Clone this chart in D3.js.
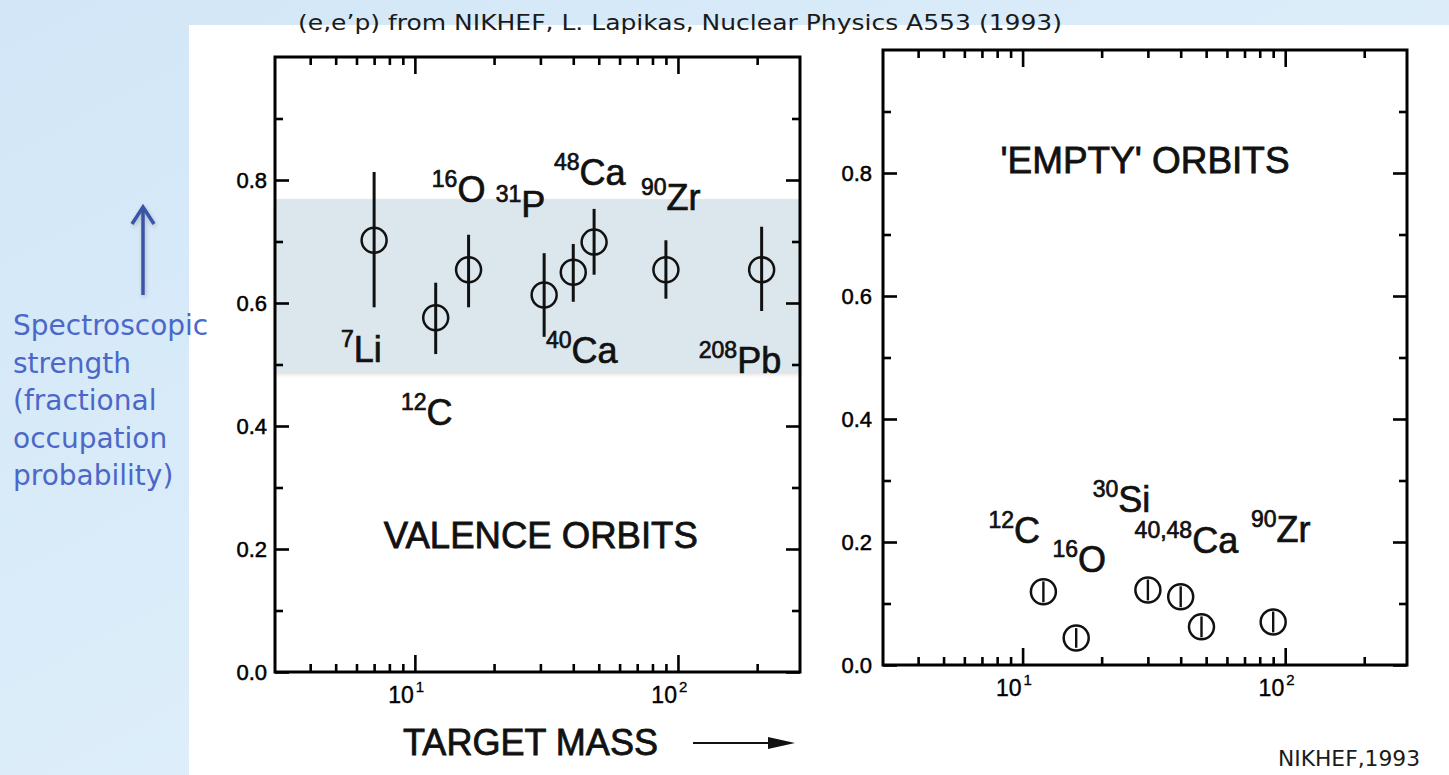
<!DOCTYPE html>
<html>
<head>
<meta charset="utf-8">
<script src="https://cdn.jsdelivr.net/npm/d3@7"></script>
<style>
  html, body { margin: 0; padding: 0; overflow: hidden; background: #fff; }
  svg { display: block; }
</style>
</head>
<body>
<svg id="chart" width="1449" height="775"></svg>
<script>
// ---- Valence orbits: (e,e'p) spectroscopic strength vs target mass ----
const valenceNuclei   = ["7Li", "12C", "16O", "31P", "40Ca", "48Ca", "90Zr", "208Pb"];
const valenceMass     = [7, 12, 16, 31, 40, 48, 90, 208];
const valenceStrength = [0.702, 0.576, 0.654, 0.613, 0.650, 0.699, 0.654, 0.654];
const valenceLow      = [0.593, 0.517, 0.593, 0.545, 0.602, 0.646, 0.607, 0.587];
const valenceHigh     = [0.813, 0.633, 0.711, 0.681, 0.696, 0.753, 0.702, 0.724];

// ---- 'Empty' orbits ----
const emptyNuclei   = ["12C", "16O", "30Si", "40Ca", "48Ca", "90Zr"];
const emptyMass     = [12, 16, 30, 40, 48, 90];
const emptyStrength = [0.119, 0.044, 0.122, 0.111, 0.062, 0.070];
const emptyLow      = [0.102, 0.028, 0.105, 0.094, 0.045, 0.053];
const emptyHigh     = [0.136, 0.060, 0.139, 0.128, 0.079, 0.087];

// shaded range of typical valence strength
const bandRange = [0.488, 0.769];

// nucleus labels (mass-number superscript + symbol), anchored in data units
const valenceLabelSup   = ["7", "12", "16", "31", "48", "90", "40", "208"];
const valenceLabelSym   = ["Li", "C", "O", "P", "Ca", "Zr", "Ca", "Pb"];
const valenceLabelMass  = [5.24, 8.85, 11.6, 20.3, 33.8, 72.3, 31.5, 120];
const valenceLabelLevel = [0.504, 0.402, 0.764, 0.740, 0.792, 0.751, 0.502, 0.486];

const emptyLabelSup   = ["12", "16", "30", "40,48", "90"];
const emptyLabelSym   = ["C", "O", "Si", "Ca", "Zr"];
const emptyLabelMass  = [7.41, 13.0, 18.5, 26.7, 74.1];
const emptyLabelLevel = [0.198, 0.151, 0.249, 0.182, 0.200];

// axes
const massDomain     = [2.94, 291];
const strengthDomain = [0, 1.0];
const xMajorTicks    = [10, 100];
const xMajorLabels   = ["1", "2"];
const xMinorTicks    = [4, 5, 6, 7, 8, 9, 20, 30, 40, 50, 60, 70, 80, 90, 200];
const yMajorTicks    = [0, 0.2, 0.4, 0.6, 0.8];
const yMinorTicks    = [0.1, 0.3, 0.5, 0.7, 0.9];

// text
const titleText  = "(e,e\u2019p) from NIKHEF,  L. Lapikas, Nuclear Physics A553 (1993)";
const sideText   = ["Spectroscopic", "strength", "(fractional", "occupation", "probability)"];
const creditText = "NIKHEF,1993";
const xAxisTitle = "TARGET MASS";

const svg = d3.select("#chart");
const W = 1449, H = 775;
const FIG_FONT = "'Liberation Sans', Arial, Helvetica, sans-serif";
const SLIDE_FONT = "'DejaVu Sans', Verdana, sans-serif";
const INK = "#111";

// ---- slide background ----
const defs = svg.append("defs");
const bg = defs.append("linearGradient").attr("id", "slideBg")
  .attr("x1", "0").attr("y1", "0").attr("x2", "1").attr("y2", "1");
bg.append("stop").attr("offset", "0%").attr("stop-color", "#d2e6f7");
bg.append("stop").attr("offset", "55%").attr("stop-color", "#ddeefa");
bg.append("stop").attr("offset", "100%").attr("stop-color", "#ebf6fd");

const shadow = defs.append("filter").attr("id", "bandShadow")
  .attr("x", "-5%").attr("y", "-20%").attr("width", "110%").attr("height", "150%");
shadow.append("feDropShadow").attr("dx", 0).attr("dy", 2.5)
  .attr("stdDeviation", 2).attr("flood-color", "#000").attr("flood-opacity", 0.14);

const arrowShadow = defs.append("filter").attr("id", "arrowShadow")
  .attr("x", "-100%").attr("y", "-20%").attr("width", "300%").attr("height", "140%");
arrowShadow.append("feDropShadow").attr("dx", 1).attr("dy", 2)
  .attr("stdDeviation", 2).attr("flood-color", "#000").attr("flood-opacity", 0.2);

svg.append("rect").attr("width", W).attr("height", H).attr("fill", "url(#slideBg)");
// white figure area
svg.append("rect").attr("x", 189).attr("y", 25).attr("width", W - 189).attr("height", H - 25)
  .attr("fill", "#ffffff");

// ---- title ----
svg.append("text").attr("x", 298).attr("y", 30)
  .attr("font-family", SLIDE_FONT).attr("font-size", 20.5).attr("fill", "#1b1b1b")
  .attr("textLength", 764).attr("lengthAdjust", "spacingAndGlyphs")
  .text(titleText);

// ---- panels ----
function drawPanel(p) {
  const g = svg.append("g");
  const x = d3.scaleLog().domain(massDomain).range([p.left, p.right]);
  const y = d3.scaleLinear().domain(strengthDomain).range([p.bottom, p.top]);

  // shaded band (drawn underneath the data)
  if (p.band) {
    g.append("rect")
      .attr("x", p.left).attr("width", p.right - p.left)
      .attr("y", y(p.band[1])).attr("height", y(p.band[0]) - y(p.band[1]))
      .attr("fill", "#dce7ed").attr("filter", "url(#bandShadow)");
  }

  const tickStyle = sel => {
    sel.select(".domain").remove();
    sel.selectAll(".tick line").attr("stroke", "#000").attr("stroke-width", 2.6);
  };
  // inward-pointing ticks on all four sides
  const addX = (ticks, len) => {
    g.append("g").attr("transform", `translate(0,${p.bottom})`)
      .call(d3.axisTop(x).tickValues(ticks).tickSize(len).tickFormat("")).call(tickStyle);
    g.append("g").attr("transform", `translate(0,${p.top})`)
      .call(d3.axisBottom(x).tickValues(ticks).tickSize(len).tickFormat("")).call(tickStyle);
  };
  const addY = (ticks, len) => {
    g.append("g").attr("transform", `translate(${p.left},0)`)
      .call(d3.axisRight(y).tickValues(ticks).tickSize(len).tickFormat("")).call(tickStyle);
    g.append("g").attr("transform", `translate(${p.right},0)`)
      .call(d3.axisLeft(y).tickValues(ticks).tickSize(len).tickFormat("")).call(tickStyle);
  };
  addX(xMinorTicks, 8);
  addX(xMajorTicks, 17);
  addY(yMinorTicks, 8);
  addY(yMajorTicks, 14);

  // frame
  g.append("rect")
    .attr("x", p.left).attr("y", p.top)
    .attr("width", p.right - p.left).attr("height", p.bottom - p.top)
    .attr("fill", "none").attr("stroke", "#000").attr("stroke-width", 3);

  // y tick labels
  g.append("g").attr("transform", `translate(${p.left},0)`)
    .call(d3.axisLeft(y).tickValues(yMajorTicks).tickSize(0).tickPadding(p.labelPad)
      .tickFormat(d3.format(".1f")))
    .call(sel => {
      sel.select(".domain").remove();
      sel.selectAll("text").attr("font-family", FIG_FONT).attr("font-size", 22)
        .attr("fill", "#000").attr("stroke", "#000").attr("stroke-width", 0.5);
    });

  // x tick labels: 10^1, 10^2
  xMajorTicks.forEach((v, i) => {
    g.append("text").attr("x", x(v) - 1).attr("y", p.bottom + 31)
      .attr("text-anchor", "end").attr("font-family", FIG_FONT).attr("font-size", 23)
      .attr("fill", "#000").attr("stroke", "#000").attr("stroke-width", 0.4)
      .text("10");
    g.append("text").attr("x", x(v) + 1).attr("y", p.bottom + 20)
      .attr("font-family", FIG_FONT).attr("font-size", 15)
      .attr("fill", "#000").attr("stroke", "#000").attr("stroke-width", 0.3)
      .text(xMajorLabels[i]);
  });

  // error bars
  g.append("g").selectAll("line").data(p.mass).join("line")
    .attr("x1", d => x(d)).attr("x2", d => x(d))
    .attr("y1", (d, i) => y(p.low[i])).attr("y2", (d, i) => y(p.high[i]))
    .attr("stroke", INK).attr("stroke-width", p.barWidth);

  // open circle markers
  g.append("g").selectAll("circle").data(p.mass).join("circle")
    .attr("cx", d => x(d)).attr("cy", (d, i) => y(p.value[i]))
    .attr("r", 12.5).attr("fill", "none")
    .attr("stroke", INK).attr("stroke-width", 2.5);

  // nucleus labels
  p.labelSym.forEach((sym, i) => {
    const t = g.append("text")
      .attr("x", x(p.labelMass[i])).attr("y", y(p.labelLevel[i]))
      .attr("font-family", FIG_FONT).attr("fill", INK)
      .attr("stroke", INK).attr("stroke-width", 0.7);
    t.append("tspan").attr("font-size", 23).attr("dy", -15).text(p.labelSup[i]);
    t.append("tspan").attr("font-size", 36).attr("dy", 15).text(sym);
  });

  // panel caption
  g.append("text")
    .attr("x", x(p.caption.mass)).attr("y", y(p.caption.level))
    .attr("font-family", FIG_FONT).attr("font-size", 37).attr("fill", INK)
    .attr("stroke", INK).attr("stroke-width", 0.8)
    .attr("textLength", p.caption.width).attr("lengthAdjust", "spacingAndGlyphs")
    .text(p.caption.text);
}

drawPanel({
  left: 275, right: 800, top: 57, bottom: 672, labelPad: 8,
  band: bandRange,
  mass: valenceMass, value: valenceStrength, low: valenceLow, high: valenceHigh,
  barWidth: 3,
  labelSup: valenceLabelSup, labelSym: valenceLabelSym,
  labelMass: valenceLabelMass, labelLevel: valenceLabelLevel,
  caption: { text: "VALENCE ORBITS", mass: 7.62, level: 0.2016, width: 314 }
});

drawPanel({
  left: 883, right: 1407, top: 50, bottom: 665, labelPad: 11,
  band: null,
  mass: emptyMass, value: emptyStrength, low: emptyLow, high: emptyHigh,
  barWidth: 2.4,
  labelSup: emptyLabelSup, labelSym: emptyLabelSym,
  labelMass: emptyLabelMass, labelLevel: emptyLabelLevel,
  caption: { text: "'EMPTY' ORBITS", mass: 8.24, level: 0.800, width: 289 }
});

// ---- x axis title with arrow ----
svg.append("text").attr("x", 403).attr("y", 755)
  .attr("font-family", FIG_FONT).attr("font-size", 37).attr("fill", INK)
  .attr("stroke", INK).attr("stroke-width", 0.8)
  .attr("textLength", 255).attr("lengthAdjust", "spacingAndGlyphs")
  .text(xAxisTitle);
svg.append("line").attr("x1", 693).attr("y1", 743).attr("x2", 772).attr("y2", 743)
  .attr("stroke", INK).attr("stroke-width", 2);
svg.append("path").attr("d", "M768,737 L795,743 L768,749 Z").attr("fill", INK);

// ---- side annotation (slide overlay) ----
const blue = "#4b68c8";
svg.append("g").attr("filter", "url(#arrowShadow)").call(a => {
  a.append("line").attr("x1", 143).attr("y1", 295).attr("x2", 143).attr("y2", 207)
    .attr("stroke", "#3b54a6").attr("stroke-width", 3.5);
  a.append("polyline").attr("points", "132,224 143,207 154,224")
    .attr("fill", "none").attr("stroke", "#3b54a6").attr("stroke-width", 3.5)
    .attr("stroke-linejoin", "miter");
});
svg.append("g").selectAll("text").data(sideText).join("text")
  .attr("x", 13).attr("y", (d, i) => 335 + i * 37.6)
  .attr("font-family", SLIDE_FONT).attr("font-size", 28).attr("fill", blue)
  .text(d => d);

// ---- credit ----
svg.append("text").attr("x", 1278).attr("y", 766)
  .attr("font-family", SLIDE_FONT).attr("font-size", 21).attr("fill", "#1b1b1b")
  .attr("textLength", 142).attr("lengthAdjust", "spacingAndGlyphs")
  .text(creditText);
</script>
</body>
</html>
